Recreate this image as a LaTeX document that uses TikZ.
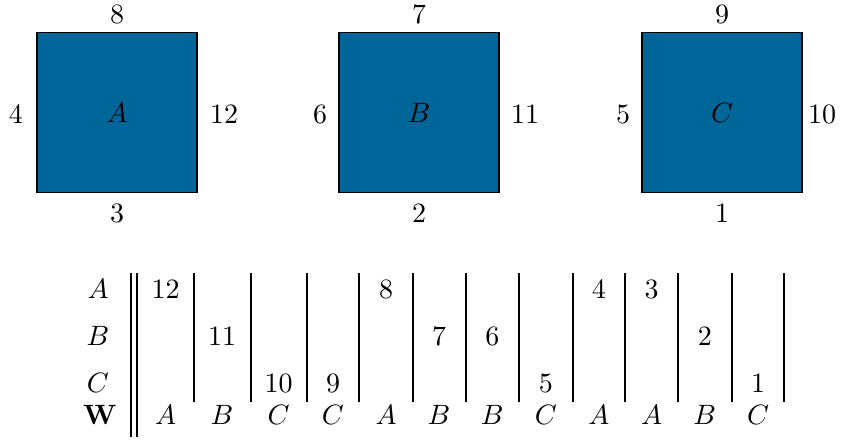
\documentclass[tikz,border=0pt]{standalone}
\usepackage{graphicx}
\definecolor{sqblue}{RGB}{0,102,153}
\newcommand{\bigtxt}[1]{\scalebox{1.4}{#1}}
\begin{document}
\begin{tikzpicture}[x=0.5pt,y=-0.5pt,
  sq/.style={draw=black, line width=0.8pt, fill=sqblue, minimum size=80pt, inner sep=0pt, outer sep=0pt},
  lbl/.style={inner sep=0pt},
  tabrule/.style={line width=0.9pt, black}]
\useasboundingbox (0,0) rectangle (844,440);
% squares
\node[sq] (A) at (117,112.5) {\bigtxt{$A$}};
\node[sq] (B) at (419,112.5) {\bigtxt{$B$}};
\node[sq] (C) at (722,112.5) {\bigtxt{$C$}};
% edge labels
\node[lbl] (At) at (117,14) {\bigtxt{8}};
\node[lbl] (Al) at (16,114) {\bigtxt{4}};
\node[lbl] (Ar) at (224,114) {\bigtxt{12}};
\node[lbl] (Ab) at (117,213) {\bigtxt{3}};
\node[lbl] (Bt) at (419,14) {\bigtxt{7}};
\node[lbl] (Bl) at (320,114) {\bigtxt{6}};
\node[lbl] (Br) at (525,114) {\bigtxt{11}};
\node[lbl] (Bb) at (419,213) {\bigtxt{2}};
\node[lbl] (Ct) at (722,14) {\bigtxt{9}};
\node[lbl] (Cl) at (623,114) {\bigtxt{5}};
\node[lbl] (Cr) at (822,114) {\bigtxt{10}};
\node[lbl] (Cb) at (722,213) {\bigtxt{1}};
% row labels
\node[lbl] (rA) at (98,289) {\bigtxt{$A$}};
\node[lbl] (rB) at (98,336) {\bigtxt{$B$}};
\node[lbl] (rC) at (98,383) {\bigtxt{$C$}};
\node[lbl] (rW) at (100,415) {\bigtxt{$\mathbf{W}$}};
% double rule
\draw[tabrule] (131,273) -- (131,437);
\draw[tabrule] (137,273) -- (137,437);
% column rules
\foreach \x in {194,250.7,306.7,359.3,412.7,465.7,519,572.7,625,678,731.7,784}
  \draw[tabrule] (\x,273) -- (\x,402);
% cell values
\node[lbl] (v12) at (165.5,289) {\bigtxt{12}};
\node[lbl] (v11) at (222,336) {\bigtxt{11}};
\node[lbl] (v10) at (278.7,383) {\bigtxt{10}};
\node[lbl] (v9) at (333,383) {\bigtxt{9}};
\node[lbl] (v8) at (386,289) {\bigtxt{8}};
\node[lbl] (v7) at (439,336) {\bigtxt{7}};
\node[lbl] (v6) at (492.3,336) {\bigtxt{6}};
\node[lbl] (v5) at (545.8,383) {\bigtxt{5}};
\node[lbl] (v4) at (598.8,289) {\bigtxt{4}};
\node[lbl] (v3) at (651.5,289) {\bigtxt{3}};
\node[lbl] (v2) at (704.8,336) {\bigtxt{2}};
\node[lbl] (v1) at (758,383) {\bigtxt{1}};
% W row
\foreach \c/\l [count=\i] in {165.5/A,222/B,278.7/C,333/C,386/A,439/B,492.3/B,545.8/C,598.8/A,651.5/A,704.8/B,758/C}
  \node[lbl] (w\i) at (\c,415) {\bigtxt{$\l$}};
\end{tikzpicture}
\end{document}
